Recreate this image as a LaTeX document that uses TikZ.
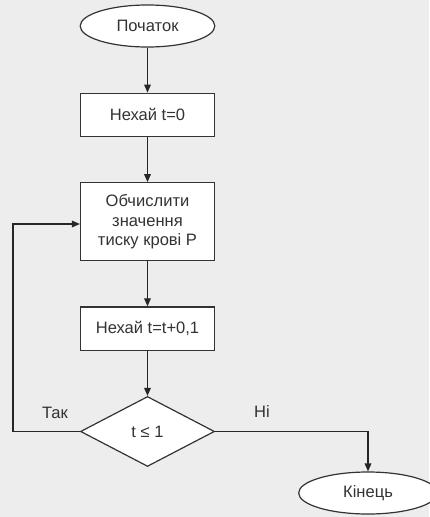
\documentclass[tikz,border=0pt]{standalone}
\usepackage{fontspec}
\setmainfont{Liberation Sans}
\usetikzlibrary{arrows.meta,positioning,shapes.geometric}

\begin{document}
\begin{tikzpicture}[
  x=0.75pt, y=-0.75pt,
  node distance=33.75pt,
  every node/.style={font=\fontsize{12.4}{14.6}\selectfont, text=black!80},
  term/.style={draw=black!80, line width=0.9pt, ellipse, fill=white, minimum width=101pt, minimum height=31.5pt, inner sep=0pt},
  proc/.style={draw=black!80, line width=0.9pt, fill=white, minimum width=100.5pt, minimum height=32.5pt, align=center, inner sep=0pt},
  test/.style={draw=black!80, line width=0.9pt, diamond, fill=white, minimum width=100.5pt, minimum height=52.5pt, inner sep=0pt},
  flow/.style={draw=black!85, line width=0.9pt, -{Triangle[length=6pt, width=5pt]}}
]
\useasboundingbox[fill=gray!14] (0,0) rectangle (429,517);
\node[term] (start) at (147.5,26) {Початок};
\node[proc, below=of start] (init) {Нехай t=0};
\node[proc, below=of init, minimum height=58.5pt] (calc) {Обчислити\\значення\\тиску крові P};
\node[proc, below=of calc] (incr) {Нехай t=t+0,1};
\node[test, below=of incr] (check) {t ≤ 1};
\node[term, minimum width=104pt] (finish) at (368,493) {Кінець};
\coordinate (loop) at (13,224);
\draw[flow] (start) -- (init);
\draw[flow] (init) -- (calc);
\draw[flow] (calc) -- (incr);
\draw[flow] (incr) -- (check);
\draw[flow] (check.west) -| (loop) -- (calc.west |- loop);
\draw[flow] (check.east) -| (finish.north);
\node (yes) at (55,413) {Так};
\node (no) at (262,412) {Ні};
\end{tikzpicture}
\end{document}
